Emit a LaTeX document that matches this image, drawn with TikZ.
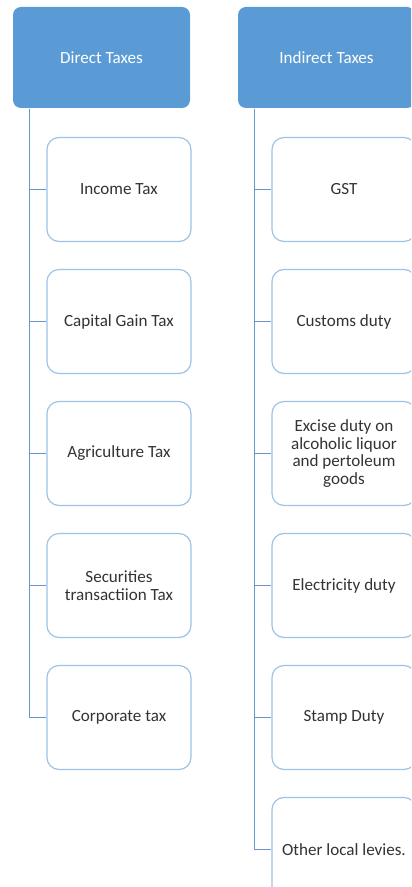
\documentclass[tikz,border=0pt]{standalone}
\usepackage{fontspec}
\setmainfont{Carlito}
\usetikzlibrary{positioning}
\definecolor{hdrblue}{HTML}{5B9BD5}
\definecolor{boxline}{HTML}{9DC3E6}
\definecolor{conblue}{HTML}{6596CE}

\begin{document}
\begin{tikzpicture}[x=0.75pt,y=-0.75pt,node distance=99pt,thick,
    head/.style={rectangle,rounded corners=6pt,fill=hdrblue,minimum width=132.75pt,minimum height=75.75pt,text=white,font=\fontsize{12.8}{13.2}\selectfont},
    item/.style={rectangle,rounded corners=9pt,draw=boxline,line width=0.9pt,fill=white,minimum width=108pt,minimum height=78pt,align=center,text=black!80,font=\fontsize{12.8}{13.2}\selectfont},
    con/.style={draw=conblue,line width=0.9pt}]
        \clip (0,0) rectangle (411,887);
        \node[head] (dt) at (101.5,57.5) {Direct Taxes};
        \node[head] (it) at (326.5,57.5) {Indirect Taxes};
        % direct taxes column
        \node[item] (d1) [below of=dt,xshift=13.1pt] {Income Tax};
        \node[item] (d2) [below of=d1] {Capital Gain Tax};
        \node[item] (d3) [below of=d2] {Agriculture Tax};
        \node[item] (d4) [below of=d3] {Securities\\transactiion Tax};
        \node[item] (d5) [below of=d4] {Corporate tax};
        % indirect taxes column
        \node[item] (i1) [below of=it,xshift=13.1pt] {GST};
        \node[item] (i2) [below of=i1] {Customs duty};
        \node[item] (i3) [below of=i2] {Excise duty on\\alcoholic liquor\\and pertoleum\\goods};
        \node[item] (i4) [below of=i3] {Electricity duty};
        \node[item] (i5) [below of=i4] {Stamp Duty};
        \node[item] (i6) [below of=i5] {Other local levies.};
        \foreach \n in {1,...,5}
            \draw[con] ([xshift=-12.75pt]d1.west |- dt.south) |- (d\n.west);
        \foreach \n in {1,...,6}
            \draw[con] ([xshift=-12.75pt]i1.west |- it.south) |- (i\n.west);
    \end{tikzpicture}
\end{document}
